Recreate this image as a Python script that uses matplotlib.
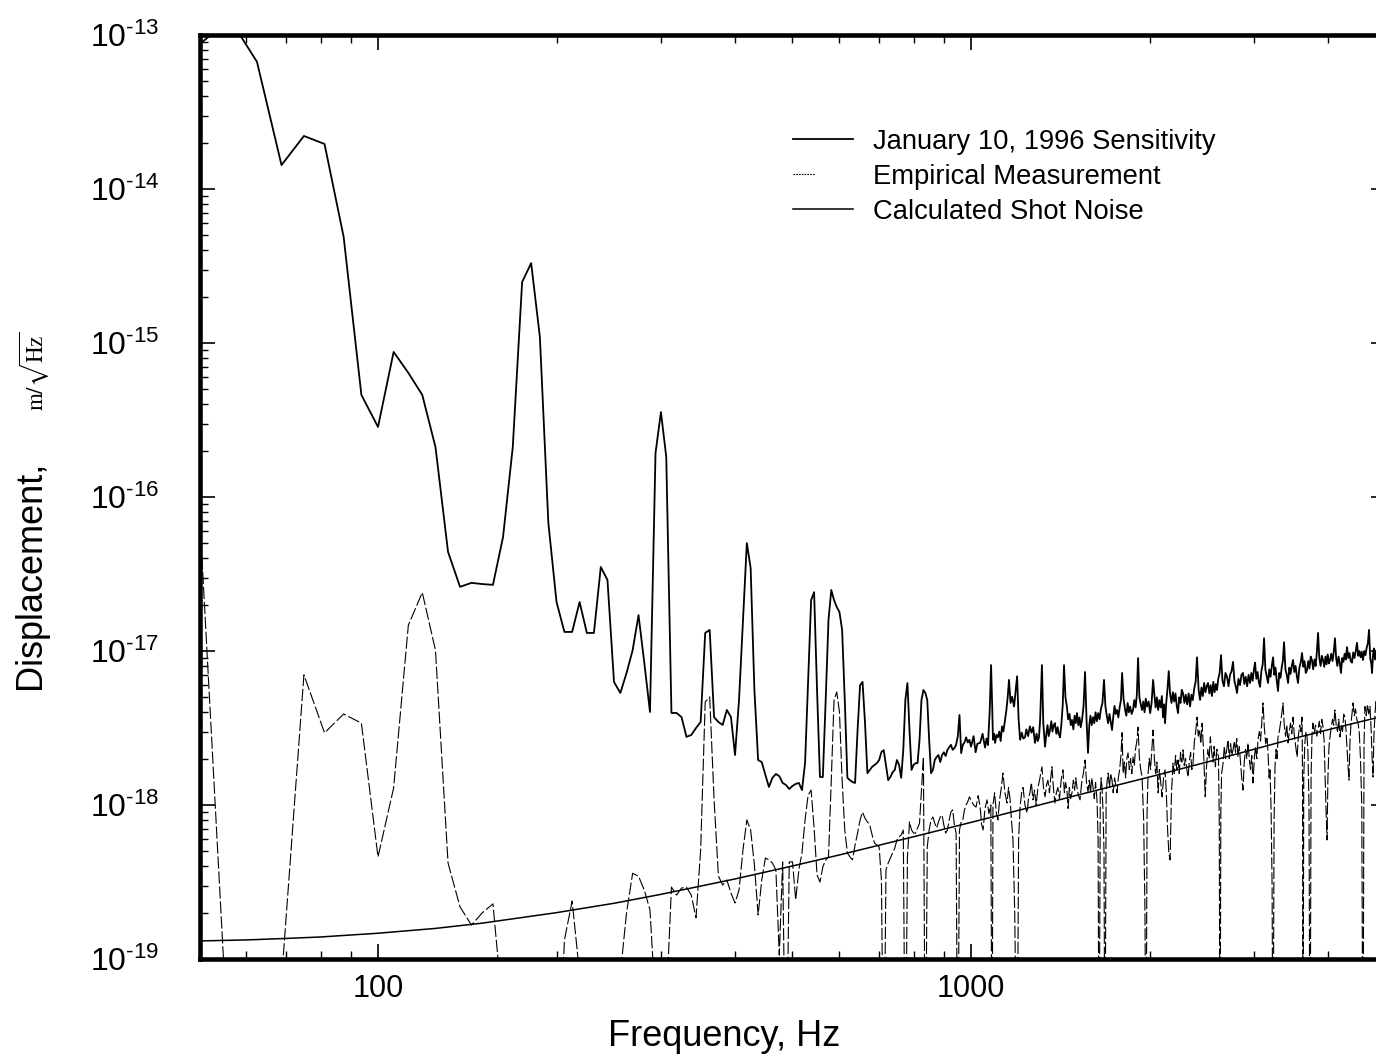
import matplotlib
matplotlib.use("Agg")
import matplotlib.pyplot as plt
from matplotlib.lines import Line2D
from matplotlib.ticker import FixedLocator, FuncFormatter, LogLocator, NullFormatter
import numpy as np

# (frequency in Hz, displacement in m/sqrt(Hz))
sensitivity = [
    (50, 8.7e-14), (56.25, 1.27e-13), (62.5, 6.7e-14), (68.75, 1.43e-14), (75, 2.21e-14),
    (81.25, 1.96e-14), (87.5, 4.9e-15), (93.75, 4.6e-16), (100, 2.85e-16), (106.25, 8.75e-16),
    (112.5, 6.4e-16), (118.75, 4.6e-16), (125, 2.11e-16), (131.25, 4.4e-17), (137.5, 2.61e-17),
    (143.75, 2.77e-17), (150, 2.72e-17), (156.25, 2.69e-17), (162.5, 5.5e-17), (168.75, 2.11e-16),
    (175, 2.49e-15), (181.25, 3.3e-15), (187.5, 1.09e-15), (193.75, 6.8e-17), (200, 2.08e-17),
    (206.25, 1.33e-17), (212.5, 1.33e-17), (218.75, 2.08e-17), (225, 1.31e-17), (231.25, 1.31e-17),
    (237.5, 3.51e-17), (243.75, 2.89e-17), (250, 6.3e-18), (256.25, 5.34e-18), (262.5, 7.2e-18),
    (268.75, 1.01e-17), (275, 1.71e-17), (281.25, 8.35e-18), (287.5, 4.02e-18), (293.75, 1.93e-16),
    (300, 3.56e-16), (306.25, 1.82e-16), (312.5, 3.96e-18), (318.75, 3.96e-18), (325, 3.72e-18),
    (331.25, 2.77e-18), (337.5, 2.85e-18), (343.75, 3.16e-18), (350, 3.46e-18), (356.25, 1.31e-17),
    (362.5, 1.37e-17), (368.75, 3.72e-18), (375, 3.46e-18), (381.25, 3.31e-18), (387.5, 4.14e-18),
    (393.75, 3.72e-18), (400, 2.11e-18), (406.25, 4.81e-18), (412.5, 1.59e-17), (418.75, 5.02e-17),
    (425, 3.46e-17), (431.25, 5.58e-18), (437.5, 1.96e-18), (443.75, 1.9e-18), (450, 1.57e-18),
    (456.25, 1.31e-18), (462.5, 1.5e-18), (468.75, 1.59e-18), (475, 1.54e-18), (481.25, 1.39e-18),
    (487.5, 1.35e-18), (493.75, 1.27e-18), (500, 1.33e-18), (506.25, 1.37e-18), (512.5, 1.39e-18),
    (518.75, 1.25e-18), (525, 1.87e-18), (531.25, 6.49e-18), (537.5, 2.14e-17), (543.75, 2.41e-17),
    (550, 5.58e-18), (556.25, 1.52e-18), (562.5, 1.52e-18), (568.75, 4.81e-18), (575, 1.59e-17),
    (581.25, 2.49e-17), (587.5, 2.14e-17), (593.75, 1.93e-17), (600, 1.79e-17), (606.25, 1.37e-17),
    (612.5, 4.81e-18), (618.75, 1.5e-18), (625, 1.45e-18), (631.25, 1.41e-18), (637.5, 1.39e-18),
    (643.75, 3.07e-18), (650, 6.0e-18), (656.25, 6.3e-18), (662.5, 3.46e-18), (668.75, 1.61e-18),
    (675, 1.69e-18), (681.25, 1.77e-18), (687.5, 1.82e-18), (693.75, 1.87e-18), (700, 1.96e-18),
    (706.25, 2.21e-18), (712.5, 2.27e-18), (718.75, 1.82e-18), (725, 1.45e-18), (731.25, 1.52e-18),
    (737.5, 1.63e-18), (743.75, 1.69e-18), (750, 1.96e-18), (756.25, 1.82e-18), (762.5, 1.5e-18),
    (768.75, 2.27e-18), (775, 4.81e-18), (781.25, 6.19e-18), (787.5, 3.07e-18), (793.75, 1.69e-18),
    (800, 1.82e-18), (806.25, 1.87e-18), (812.5, 1.87e-18), (818.75, 2.64e-18), (825, 4.81e-18),
    (831.25, 5.58e-18), (837.5, 5.34e-18), (843.75, 4.81e-18), (850, 2.64e-18), (856.25, 1.61e-18),
    (862.5, 1.69e-18), (868.75, 1.96e-18), (875, 2.05e-18), (881.25, 2.11e-18), (887.5, 1.9e-18),
    (893.75, 2.11e-18), (900, 2.2e-18), (906.25, 2.08e-18), (912.5, 2.28e-18), (918.75, 2.37e-18),
    (925, 2.46e-18), (931.25, 2.28e-18), (937.5, 2.34e-18), (943.75, 2.46e-18), (950, 2.8e-18),
    (956.25, 3.84e-18), (962.5, 2.17e-18), (968.75, 2.46e-18), (975, 2.55e-18), (981.25, 2.75e-18),
    (987.5, 2.55e-18), (993.75, 2.65e-18),
    (1000, 2.39e-18), (1010, 2.8e-18), (1018, 2.2e-18), (1025, 2.5e-18), (1036, 2.53e-18),
    (1046, 2.9e-18), (1056, 2.36e-18), (1062, 2.7e-18), (1068, 2.45e-18), (1075, 4.0e-18),
    (1081, 8.1e-18), (1086, 4.2e-18), (1089, 2.65e-18), (1094, 2.9e-18), (1098, 2.53e-18),
    (1104, 2.85e-18), (1110, 2.75e-18), (1116, 3.0e-18), (1122, 2.6e-18), (1128, 3.24e-18),
    (1134, 3.0e-18), (1141, 3.57e-18), (1147, 4.1e-18), (1153, 5.0e-18), (1159, 6.49e-18),
    (1166, 4.6e-18), (1173, 5.05e-18), (1182, 4.36e-18), (1189, 5.5e-18), (1196, 6.85e-18),
    (1203, 3.6e-18), (1210, 2.65e-18), (1218, 2.95e-18), (1225, 2.7e-18), (1233, 2.75e-18),
    (1240, 3.1e-18), (1248, 2.8e-18), (1257, 3.24e-18), (1265, 2.95e-18), (1273, 3.2e-18),
    (1282, 2.53e-18), (1290, 2.9e-18), (1296, 2.6e-18), (1302, 2.75e-18), (1308, 3.6e-18),
    (1317, 8.1e-18), (1324, 3.4e-18), (1333, 2.39e-18), (1340, 2.9e-18), (1346, 3.3e-18),
    (1352, 2.8e-18), (1359, 3.07e-18), (1366, 3.5e-18), (1372, 3.0e-18), (1379, 3.3e-18),
    (1385, 3.4e-18), (1393, 2.9e-18), (1400, 3.2e-18), (1406, 2.9e-18), (1413, 2.75e-18),
    (1420, 3.3e-18), (1428, 4.5e-18), (1435, 8.1e-18), (1443, 5.0e-18), (1451, 4.36e-18),
    (1458, 3.6e-18), (1466, 3.9e-18), (1473, 3.3e-18), (1480, 3.57e-18), (1488, 3.1e-18),
    (1495, 3.8e-18), (1502, 3.4e-18), (1509, 3.95e-18), (1517, 3.3e-18), (1524, 3.7e-18),
    (1531, 3.2e-18), (1539, 3.57e-18), (1548, 4.4e-18), (1557, 7.3e-18), (1566, 3.6e-18),
    (1575, 2.18e-18), (1583, 3.3e-18), (1590, 3.8e-18), (1598, 3.3e-18), (1606, 3.72e-18),
    (1614, 3.4e-18), (1622, 4.0e-18), (1630, 3.5e-18), (1638, 3.95e-18), (1647, 3.6e-18),
    (1656, 4.2e-18), (1666, 4.6e-18), (1676, 6.49e-18), (1685, 4.4e-18), (1694, 3.8e-18),
    (1703, 3.4e-18), (1712, 3.9e-18), (1720, 3.5e-18), (1729, 3.07e-18), (1737, 3.7e-18),
    (1746, 4.4e-18), (1754, 3.9e-18), (1763, 4.14e-18), (1772, 3.7e-18), (1781, 4.3e-18),
    (1790, 4.8e-18), (1798, 7.2e-18), (1808, 4.9e-18), (1819, 4.14e-18), (1828, 3.8e-18),
    (1837, 4.6e-18), (1846, 4.0e-18), (1855, 4.36e-18), (1866, 3.9e-18), (1876, 4.14e-18),
    (1885, 4.8e-18), (1895, 4.3e-18), (1904, 5.2e-18), (1913, 9.0e-18), (1923, 5.0e-18),
    (1933, 4.5e-18), (1943, 4.14e-18), (1952, 4.7e-18), (1962, 4.0e-18), (1971, 4.9e-18),
    (1981, 4.36e-18), (1993, 4.7e-18), (2005, 3.95e-18), (2016, 4.6e-18), (2028, 6.49e-18),
    (2038, 5.2e-18), (2048, 4.3e-18), (2058, 5.0e-18), (2068, 4.14e-18), (2078, 4.8e-18),
    (2088, 4.3e-18), (2098, 5.1e-18), (2108, 3.72e-18), (2116, 4.5e-18), (2124, 3.4e-18),
    (2134, 4.6e-18), (2144, 5.6e-18), (2155, 7.4e-18), (2166, 5.3e-18), (2178, 4.6e-18),
    (2190, 5.4e-18), (2201, 4.7e-18), (2212, 5.3e-18), (2223, 4.4e-18), (2234, 3.95e-18),
    (2245, 5.0e-18), (2256, 4.6e-18), (2267, 5.6e-18), (2278, 5.3e-18), (2290, 4.6e-18),
    (2302, 5.2e-18), (2315, 4.5e-18), (2328, 5.3e-18), (2341, 4.36e-18), (2353, 5.2e-18),
    (2366, 4.8e-18), (2379, 5.7e-18), (2392, 6.3e-18), (2405, 9.1e-18), (2420, 5.6e-18),
    (2434, 4.81e-18), (2447, 5.8e-18), (2460, 5.1e-18), (2472, 6.2e-18), (2485, 5.4e-18),
    (2497, 5.9e-18), (2510, 6.2e-18), (2523, 5.3e-18), (2536, 6.0e-18), (2549, 5.1e-18),
    (2562, 6.3e-18), (2575, 5.4e-18), (2587, 6.1e-18), (2599, 5.58e-18), (2612, 6.6e-18),
    (2626, 7.2e-18), (2640, 9.4e-18), (2655, 6.4e-18), (2670, 5.9e-18), (2686, 7.2e-18),
    (2702, 6.8e-18), (2718, 5.9e-18), (2734, 7.0e-18), (2750, 7.4e-18), (2766, 8.5e-18),
    (2781, 6.4e-18), (2795, 5.9e-18), (2809, 5.34e-18), (2825, 6.6e-18), (2842, 6.0e-18),
    (2858, 7.0e-18), (2875, 7.2e-18), (2890, 6.1e-18), (2906, 6.8e-18), (2922, 5.9e-18),
    (2938, 7.0e-18), (2955, 6.2e-18), (2970, 7.2e-18), (2985, 6.4e-18), (3000, 7.6e-18),
    (3013, 8.4e-18), (3028, 6.6e-18), (3043, 7.3e-18), (3057, 6.3e-18), (3072, 5.85e-18),
    (3088, 7.4e-18), (3104, 8.2e-18), (3120, 1.21e-17), (3136, 7.6e-18), (3152, 6.9e-18),
    (3169, 6.2e-18), (3184, 7.6e-18), (3200, 6.8e-18), (3215, 8.0e-18), (3231, 9.1e-18),
    (3247, 7.0e-18), (3262, 7.8e-18), (3278, 6.4e-18), (3294, 5.5e-18), (3310, 7.2e-18),
    (3326, 6.7e-18), (3341, 7.8e-18), (3356, 8.6e-18), (3372, 1.14e-17), (3390, 7.6e-18),
    (3408, 7.0e-18), (3425, 6.2e-18), (3442, 7.8e-18), (3458, 7.1e-18), (3475, 8.0e-18),
    (3492, 8.74e-18), (3509, 7.3e-18), (3526, 8.0e-18), (3543, 6.9e-18), (3560, 6.2e-18),
    (3579, 7.8e-18), (3597, 8.4e-18), (3616, 9.7e-18), (3634, 7.9e-18), (3651, 8.6e-18),
    (3669, 7.2e-18), (3687, 7.53e-18), (3704, 8.6e-18), (3722, 7.7e-18), (3740, 9.2e-18),
    (3758, 8.74e-18), (3776, 7.6e-18), (3795, 8.8e-18), (3812, 8.0e-18), (3830, 9.8e-18),
    (3848, 1.31e-17), (3867, 9.0e-18), (3886, 8.0e-18), (3905, 9.3e-18), (3923, 8.74e-18),
    (3942, 7.9e-18), (3960, 9.2e-18), (3977, 8.2e-18), (3995, 9.5e-18), (4013, 8.3e-18),
    (4031, 8.74e-18), (4050, 9.6e-18), (4070, 8.6e-18), (4090, 9.9e-18), (4109, 1.21e-17),
    (4128, 9.0e-18), (4147, 8.0e-18), (4166, 9.2e-18), (4186, 8.4e-18), (4206, 7.2e-18),
    (4226, 9.0e-18), (4246, 8.5e-18), (4266, 9.6e-18), (4286, 8.8e-18), (4306, 1.06e-17),
    (4326, 9.0e-18), (4347, 9.7e-18), (4368, 8.6e-18), (4390, 8.4e-18), (4411, 9.8e-18),
    (4433, 9.0e-18), (4455, 1.0e-17), (4476, 1.13e-17), (4497, 9.3e-18), (4518, 1.0e-17),
    (4539, 9.1e-18), (4560, 9.9e-18), (4581, 8.74e-18), (4603, 1.0e-17), (4625, 9.4e-18),
    (4647, 1.05e-17), (4669, 1.12e-17), (4690, 1.37e-17), (4712, 9.0e-18), (4733, 8.2e-18),
    (4745, 7.2e-18), (4764, 9.5e-18), (4782, 1.04e-17), (4800, 8.8e-18), (4820, 9.7e-18),
    (4845, 1.08e-17), (4870, 9.6e-18), (4894, 1.1e-17), (4914, 1.18e-17), (4940, 1.0e-17),
    (4965, 9.2e-18), (4985, 1.05e-17), (5000, 8.7e-18),
]

empirical = [
    (50, 8.0e-17), (56.25, 1.7e-20), (62.5, 1e-20), (68.75, 7.3e-20), (75, 7.0e-18),
    (81.25, 2.94e-18), (87.5, 3.9e-18), (93.75, 3.4e-18), (100, 4.6e-19), (106.25, 1.29e-18),
    (112.5, 1.47e-17), (118.75, 2.4e-17), (125, 1.01e-17), (131.25, 4.2e-19), (137.5, 2.18e-19),
    (143.75, 1.66e-19), (150, 2.0e-19), (156.25, 2.28e-19), (162.5, 4.4e-20), (168.75, 1e-20),
    (200, 1e-20), (206.25, 1.33e-19), (212.5, 2.38e-19), (218.75, 8e-20), (225, 1e-20),
    (250, 1e-20), (256.25, 8e-20), (262.5, 2.0e-19), (268.75, 3.6e-19), (275, 3.45e-19),
    (281.25, 2.8e-19), (287.5, 2.08e-19), (293.75, 5e-20), (300, 1e-20), (306.25, 5e-20),
    (312.5, 2.93e-19), (318.75, 2.6e-19), (325, 2.89e-19), (331.25, 2.93e-19), (337.5, 2.6e-19),
    (343.75, 1.85e-19), (350, 5.1e-19), (356.25, 4.67e-18), (362.5, 5.03e-18), (368.75, 1.08e-18),
    (375, 3.46e-19), (381.25, 3.02e-19), (387.5, 3.26e-19), (393.75, 2.68e-19), (400, 2.31e-19),
    (406.25, 2.8e-19), (412.5, 5.1e-19), (418.75, 8.0e-19), (425, 6.88e-19), (431.25, 4.08e-19),
    (437.5, 1.93e-19), (443.75, 3.26e-19), (450, 4.53e-19), (456.25, 4.4e-19), (462.5, 4.2e-19),
    (468.75, 3.79e-19), (475, 1.06e-19), (481.25, 4.27e-19), (487.5, 1e-20), (493.75, 4.27e-19),
    (500, 4.27e-19), (506.25, 2.42e-19), (512.5, 3.79e-19), (518.75, 4.88e-19), (525, 8.0e-19),
    (531.25, 1.16e-18), (537.5, 1.25e-18), (543.75, 7.09e-19), (550, 3.51e-19), (556.25, 3.16e-19),
    (562.5, 3.96e-19), (568.75, 4.4e-19), (575, 4.6e-19), (581.25, 1.45e-18), (587.5, 4.81e-18),
    (593.75, 5.42e-18), (600, 4.02e-18), (606.25, 1.45e-18), (612.5, 6.88e-19), (618.75, 4.88e-19),
    (625, 4.6e-19), (631.25, 4.4e-19), (637.5, 5.5e-19), (643.75, 6.57e-19), (650, 8.0e-19),
    (656.25, 9.0e-19), (662.5, 8.2e-19), (668.75, 7.77e-19), (675, 7.4e-19), (681.25, 6.38e-19),
    (687.5, 5.66e-19), (693.75, 5.5e-19), (700, 5.33e-19), (706.25, 3.26e-19), (712.5, 1e-20),
    (718.75, 3.79e-19), (725, 4.2e-19), (731.25, 4.53e-19), (737.5, 4.88e-19), (743.75, 5.25e-19),
    (750, 5.93e-19), (756.25, 6.2e-19), (762.5, 6.38e-19), (768.75, 6.88e-19), (775, 1e-20),
    (781.25, 4.6e-19), (787.5, 7.77e-19), (793.75, 6.88e-19), (800, 6.57e-19), (806.25, 6.57e-19),
    (812.5, 7.09e-19), (818.75, 7.6e-19), (825, 1.25e-18), (831.25, 2.05e-18), (837.5, 1e-20),
    (843.75, 5.33e-19), (850, 6.88e-19), (856.25, 8.0e-19), (862.5, 8.36e-19), (868.75, 7.6e-19),
    (875, 7.09e-19), (881.25, 7.77e-19), (887.5, 8.36e-19), (893.75, 8.6e-19), (900, 7.4e-19),
    (906.25, 6.57e-19), (912.5, 6.88e-19), (918.75, 8.0e-19), (925, 9.0e-19), (931.25, 9.3e-19),
    (937.5, 7.4e-19), (943.75, 6.57e-19), (950, 1e-20), (956.25, 6.88e-19), (962.5, 7.77e-19),
    (968.75, 8.0e-19), (975, 9.3e-19), (981.25, 1.0e-18), (987.5, 1.05e-18), (993.75, 1.13e-18),
    (1000, 1.08e-18), (1010, 1.0e-18), (1020, 9.7e-19), (1028, 1.15e-18), (1036, 9.7e-19),
    (1042, 7.5e-19), (1048, 6.88e-19), (1056, 9.5e-19), (1064, 1.08e-18), (1072, 8.8e-19),
    (1080, 1.0e-18), (1085, 1e-20), (1089, 1.0e-18), (1096, 1.2e-18), (1103, 9.0e-19),
    (1110, 8.0e-19), (1118, 1.1e-18), (1125, 1.3e-18), (1132, 1.61e-18), (1141, 1.2e-18),
    (1150, 1.03e-18), (1157, 1.3e-18), (1164, 1.08e-18), (1170, 8.0e-19), (1177, 5.93e-19),
    (1185, 2.0e-19), (1196, 1e-20), (1203, 6.0e-19), (1210, 9.7e-19), (1217, 1.2e-18),
    (1224, 1.3e-18), (1233, 1.0e-18), (1243, 8.87e-19), (1250, 1.1e-18), (1257, 1.2e-18),
    (1264, 1.4e-18), (1272, 1.08e-18), (1280, 1.25e-18), (1288, 1.0e-18), (1297, 1.3e-18),
    (1307, 1.5e-18), (1317, 1.77e-18), (1325, 1.3e-18), (1333, 1.13e-18), (1341, 1.35e-18),
    (1348, 1.45e-18), (1356, 1.2e-18), (1363, 1.5e-18), (1369, 1.77e-18), (1377, 1.3e-18),
    (1385, 1.03e-18), (1393, 1.2e-18), (1401, 1.3e-18), (1410, 1.1e-18), (1419, 1.45e-18),
    (1429, 1.69e-18), (1437, 1.2e-18), (1444, 1.4e-18), (1451, 1.25e-18), (1458, 9.5e-19),
    (1465, 1.3e-18), (1472, 1.1e-18), (1480, 1.2e-18), (1488, 1.45e-18), (1495, 1.25e-18),
    (1502, 1.5e-18), (1509, 1.3e-18), (1518, 1.15e-18), (1527, 1.08e-18), (1537, 1.4e-18),
    (1547, 1.6e-18), (1557, 1.96e-18), (1566, 1.4e-18), (1575, 1.22e-18), (1583, 1.45e-18),
    (1590, 1.2e-18), (1598, 1.5e-18), (1606, 1.3e-18), (1614, 1.1e-18), (1622, 1.4e-18),
    (1631, 1.08e-18), (1638, 6.0e-19), (1644, 1e-20), (1652, 1.2e-18), (1658, 1.5e-18),
    (1663, 1.3e-18), (1670, 9.0e-19), (1676, 5.0e-19), (1682, 1e-20), (1690, 1.2e-18),
    (1697, 1.45e-18), (1703, 1.61e-18), (1712, 1.3e-18), (1720, 1.6e-18), (1729, 1.45e-18),
    (1737, 1.2e-18), (1746, 1.5e-18), (1754, 1.35e-18), (1763, 1.2e-18), (1772, 1.5e-18),
    (1781, 1.7e-18), (1790, 2.1e-18), (1798, 2.95e-18), (1805, 1.61e-18), (1814, 1.9e-18),
    (1823, 1.5e-18), (1831, 2.0e-18), (1840, 2.18e-18), (1849, 1.7e-18), (1858, 2.0e-18),
    (1867, 1.6e-18), (1876, 2.05e-18), (1885, 1.8e-18), (1894, 2.3e-18), (1904, 2.6e-18),
    (1913, 3.2e-18), (1923, 2.0e-18), (1933, 1.7e-18), (1943, 1.52e-18), (1955, 8.0e-19),
    (1965, 2.0e-19), (1973, 1e-20), (1981, 9.0e-19), (1989, 1.61e-18), (1998, 2.0e-18),
    (2008, 1.7e-18), (2018, 2.3e-18), (2028, 3.07e-18), (2038, 2.0e-18), (2048, 1.6e-18),
    (2058, 1.9e-18), (2068, 1.2e-18), (2078, 1.7e-18), (2089, 1.4e-18), (2100, 1.13e-18),
    (2112, 1.5e-18), (2124, 1.69e-18), (2135, 1.2e-18), (2145, 7.0e-19), (2155, 5.0e-19),
    (2166, 4.4e-19), (2178, 1.2e-18), (2191, 1.87e-18), (2202, 1.6e-18), (2213, 2.1e-18),
    (2224, 1.7e-18), (2234, 1.96e-18), (2245, 1.6e-18), (2256, 2.2e-18), (2267, 1.9e-18),
    (2278, 2.28e-18), (2289, 1.8e-18), (2300, 2.0e-18), (2312, 1.7e-18), (2323, 1.52e-18),
    (2334, 1.9e-18), (2346, 2.2e-18), (2357, 1.7e-18), (2368, 1.87e-18), (2381, 2.6e-18),
    (2393, 3.0e-18), (2405, 3.72e-18), (2417, 2.8e-18), (2429, 3.1e-18), (2441, 2.5e-18),
    (2453, 3.4e-18), (2466, 2.3e-18), (2475, 1.6e-18), (2483, 1.13e-18), (2496, 1.8e-18),
    (2508, 2.3e-18), (2521, 2.0e-18), (2533, 2.77e-18), (2546, 2.2e-18), (2558, 1.9e-18),
    (2570, 2.4e-18), (2583, 1.77e-18), (2598, 2.3e-18), (2614, 2.05e-18), (2622, 8.0e-19),
    (2630, 1e-20), (2638, 9.0e-19), (2646, 1.6e-18), (2661, 1.87e-18), (2674, 2.4e-18),
    (2687, 2.0e-18), (2700, 2.3e-18), (2713, 2.65e-18), (2726, 2.0e-18), (2740, 2.5e-18),
    (2753, 2.1e-18), (2766, 2.28e-18), (2780, 2.6e-18), (2793, 2.2e-18), (2806, 2.7e-18),
    (2820, 2.05e-18), (2834, 2.4e-18), (2848, 1.9e-18), (2861, 1.5e-18), (2875, 1.25e-18),
    (2889, 1.9e-18), (2903, 2.3e-18), (2918, 2.0e-18), (2932, 2.53e-18), (2946, 2.0e-18),
    (2960, 1.7e-18), (2975, 2.1e-18), (2989, 1.39e-18), (3004, 2.0e-18), (3019, 2.4e-18),
    (3033, 2.0e-18), (3048, 2.65e-18), (3063, 3.0e-18), (3078, 2.6e-18), (3093, 3.5e-18),
    (3108, 4.6e-18), (3123, 3.2e-18), (3140, 2.5e-18), (3157, 2.77e-18), (3170, 2.1e-18),
    (3182, 1.5e-18), (3194, 1.69e-18), (3207, 9.0e-19), (3219, 3.0e-19), (3231, 1e-20),
    (3244, 8.0e-19), (3256, 1.8e-18), (3270, 2.3e-18), (3282, 2.0e-18), (3294, 2.77e-18),
    (3310, 3.0e-18), (3326, 3.4e-18), (3342, 3.9e-18), (3358, 4.6e-18), (3375, 3.3e-18),
    (3392, 2.8e-18), (3408, 3.3e-18), (3425, 2.53e-18), (3442, 3.0e-18), (3458, 3.4e-18),
    (3475, 2.9e-18), (3492, 3.72e-18), (3510, 2.8e-18), (3528, 2.4e-18), (3547, 2.05e-18),
    (3565, 2.8e-18), (3583, 3.3e-18), (3600, 3.0e-18), (3616, 3.72e-18), (3623, 1.5e-18),
    (3630, 1e-20), (3640, 1.5e-18), (3655, 2.5e-18), (3671, 3.0e-18), (3687, 2.77e-18),
    (3700, 2.2e-18), (3715, 1.0e-18), (3730, 1e-20), (3745, 1.5e-18), (3758, 2.8e-18),
    (3772, 3.4e-18), (3790, 2.9e-18), (3810, 3.3e-18), (3829, 2.8e-18), (3848, 3.07e-18),
    (3866, 3.5e-18), (3885, 2.9e-18), (3904, 3.6e-18), (3923, 3.2e-18), (3940, 2.6e-18),
    (3955, 1.5e-18), (3970, 9.0e-19), (3985, 5.93e-19), (3998, 1.5e-18), (4015, 2.4e-18),
    (4031, 2.77e-18), (4050, 3.2e-18), (4070, 3.6e-18), (4090, 3.3e-18), (4109, 4.14e-18),
    (4129, 3.3e-18), (4150, 3.0e-18), (4170, 3.6e-18), (4190, 2.77e-18), (4211, 3.3e-18),
    (4231, 3.0e-18), (4252, 3.9e-18), (4272, 3.72e-18), (4290, 3.0e-18), (4307, 2.3e-18),
    (4323, 1.8e-18), (4339, 1.45e-18), (4356, 2.6e-18), (4373, 3.4e-18), (4390, 3.9e-18),
    (4407, 4.6e-18), (4430, 3.8e-18), (4450, 4.2e-18), (4472, 3.6e-18), (4494, 3.4e-18),
    (4515, 3.0e-18), (4537, 2.0e-18), (4560, 1.0e-18), (4581, 1e-20), (4600, 2.5e-18),
    (4617, 4.36e-18), (4640, 3.8e-18), (4662, 4.5e-18), (4685, 3.9e-18), (4708, 4.36e-18),
    (4730, 3.0e-18), (4747, 2.0e-18), (4764, 1.52e-18), (4780, 2.8e-18), (4800, 3.9e-18),
    (4820, 4.81e-18), (4845, 4.0e-18), (4870, 4.6e-18), (4895, 3.8e-18), (4920, 4.9e-18),
    (4945, 4.2e-18), (4970, 5.0e-18), (5000, 5.4e-18),
]

shot_noise = [
    (50, 1.31e-19), (60, 1.33e-19), (70, 1.36e-19), (80, 1.39e-19), (100, 1.47e-19),
    (125, 1.58e-19), (150, 1.71e-19), (200, 2.0e-19), (250, 2.3e-19), (300, 2.63e-19),
    (400, 3.31e-19), (500, 4.02e-19), (600, 4.74e-19), (800, 6.22e-19), (1000, 7.71e-19),
    (1250, 9.59e-19), (1500, 1.15e-18), (2000, 1.52e-18), (2500, 1.9e-18), (3000, 2.3e-18),
    (3500, 2.7e-18), (4000, 3.08e-18), (4500, 3.45e-18), (5000, 3.8e-18),
]

legend_labels = ["January 10, 1996 Sensitivity", "Empirical Measurement", "Calculated Shot Noise"]
x_ticks = [100, 1000]
y_ticks = [1e-19, 1e-18, 1e-17, 1e-16, 1e-15, 1e-14, 1e-13]


def y_label_fmt(v, pos):
    n = int(round(-np.log10(v)))
    return r"$10^{\text{-}%d}$" % n


def x_label_fmt(v, pos):
    return "%d" % round(v)


plt.rcParams["font.family"] = ["Liberation Sans", "DejaVu Sans"]
plt.rcParams["mathtext.fontset"] = "custom"
plt.rcParams["mathtext.rm"] = "Liberation Sans"
plt.rcParams["mathtext.it"] = "Liberation Sans:italic"
plt.rcParams["mathtext.bf"] = "Liberation Sans:bold"

fig = plt.figure(figsize=(13.76, 10.58), dpi=100)
# the frame runs on past the right edge of the picture, as in the scanned original
ax = fig.add_axes([199.5 / 1376, 1 - 959 / 1058, 1186 / 1376, 924 / 1058])

f, d = zip(*sensitivity)
ax.plot(f, d, color="black", lw=1.3)
f, d = zip(*empirical)
ax.plot(f, d, color="black", lw=0.8, linestyle=(0, (11, 2.5)))
f, d = zip(*shot_noise)
ax.plot(f, d, color="black", lw=1.1)

ax.set_xscale("log")
ax.set_yscale("log")
ax.set_xlim(50, 5000)
ax.set_ylim(1e-19, 1e-13)

ax.yaxis.set_major_locator(FixedLocator(y_ticks))
ax.yaxis.set_major_formatter(FuncFormatter(y_label_fmt))
ax.yaxis.set_minor_locator(LogLocator(base=10, subs=range(2, 10), numticks=100))
ax.yaxis.set_minor_formatter(NullFormatter())
ax.xaxis.set_major_locator(FixedLocator(x_ticks))
ax.xaxis.set_major_formatter(FuncFormatter(x_label_fmt))
ax.xaxis.set_minor_locator(LogLocator(base=10, subs=range(2, 10), numticks=100))
ax.xaxis.set_minor_formatter(NullFormatter())

ax.tick_params(which="both", direction="in", top=True, right=True, colors="black")
ax.tick_params(which="major", length=11, width=1.2, labelsize=22)
ax.tick_params(axis="y", which="major", labelsize=23, pad=29)
ax.tick_params(which="minor", length=6, width=1.0)
ax.tick_params(axis="x", which="major", pad=11)
for sp in ax.spines.values():
    sp.set_linewidth(3.3)

fig.text(724 / 1376, 1 - 1046 / 1058, "Frequency, Hz", fontsize=26, ha="center", va="baseline")
fig.text(31 / 1376, 1 - 575 / 1058, "Displacement,", fontsize=26, rotation=90,
         ha="center", va="center")
fig.text(35 / 1376, 1 - 371 / 1058, r"$\mathrm{m}/\sqrt{\mathrm{Hz}}$", fontsize=16.5,
         rotation=90, ha="center", va="center", math_fontfamily="stix")

handles = [
    Line2D([], [], color="black", lw=1.3),
    Line2D([], [], color="black", lw=0.8,
           linestyle=(0, (1.5, 1, 1.5, 1, 1.5, 1, 1.5, 1, 1.5, 1, 1.5, 1, 1.5, 1, 1.5, 200))),
    Line2D([], [], color="black", lw=1.1),
]
fig.legend(handles, legend_labels, loc="upper left", bbox_to_anchor=(793 / 1376, 1 - 129 / 1058),
           frameon=False, fontsize=19.7, handlelength=2.19, handletextpad=0.73,
           labelspacing=0.33, borderpad=0, borderaxespad=0)

fig.savefig("out.png", dpi=100)
